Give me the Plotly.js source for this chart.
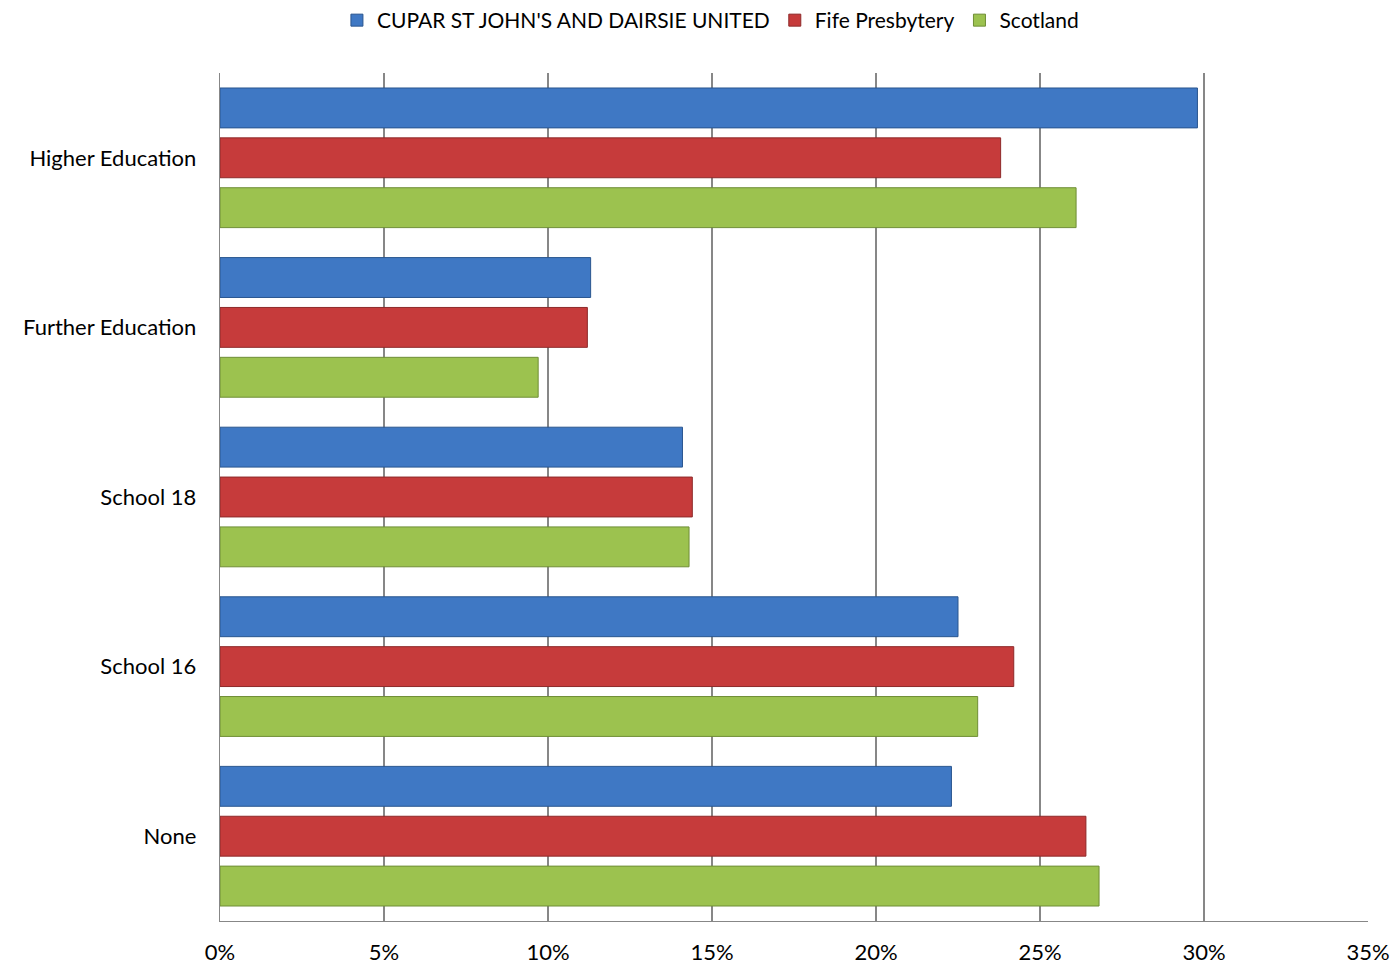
<!DOCTYPE html>
<html><head><meta charset="utf-8">
<script src="https://cdn.plot.ly/plotly-3.0.1.min.js"></script>
<style>body{margin:0;background:#fff}#chart{width:1393px;height:964px}</style>
</head><body><div id="chart"></div>
<script>
const categories = ["Higher Education", "Further Education", "School 18", "School 16", "None"];
const seriesNames = ["CUPAR ST JOHN'S AND DAIRSIE UNITED", "Fife Presbytery", "Scotland"];
const cuparValues = [0.298, 0.113, 0.141, 0.225, 0.223];
const fifeValues = [0.238, 0.112, 0.144, 0.242, 0.264];
const scotlandValues = [0.261, 0.097, 0.143, 0.231, 0.268];
const xTickValues = [0, 0.05, 0.10, 0.15, 0.20, 0.25, 0.30, 0.35];
const xTickLabels = ["0%", "5%", "10%", "15%", "20%", "25%", "30%", "35%"];

const colors = ["#3F78C4", "#C63B3B", "#9CC24F"];
const edges = ["#2A568F", "#8E2A2A", "#6F8E36"];
const allValues = [cuparValues, fifeValues, scotlandValues];

const traces = allValues.map((vals, i) => ({
  type: "bar",
  orientation: "h",
  name: seriesNames[i],
  y: categories,
  x: vals,
  marker: {color: colors[i], line: {color: edges[i], width: 1}},
  hoverinfo: "x+y+name"
}));

const layout = {
  width: 1393, height: 964,
  margin: {l: 220, r: 25, t: 73, b: 43},
  paper_bgcolor: "#fff", plot_bgcolor: "#fff",
  font: {family: "Lato, 'Open Sans', sans-serif", size: 22, color: "#000"},
  barmode: "group",
  bargap: 0.118,
  bargroupgap: 0.2,
  showlegend: true,
  legend: {orientation: "h", x: 0.51, xref: "container", xanchor: "center", y: 1, yref: "container", yanchor: "top",
           font: {size: 21}, itemwidth: 30, tracegroupgap: 0},
  xaxis: {
    range: [0, 0.35], tickvals: xTickValues, ticktext: xTickLabels,
    showgrid: true, gridcolor: "#878787", gridwidth: 1.3,
    showline: true, linecolor: "#878787", linewidth: 1.3,
    zeroline: false, ticks: "", ticklabelstandoff: 11, fixedrange: true
  },
  yaxis: {
    autorange: "reversed", showgrid: false,
    showline: true, linecolor: "#878787", linewidth: 1.3,
    ticks: "", ticklabelstandoff: 18, fixedrange: true
  }
};
Plotly.newPlot("chart", traces, layout, {displayModeBar: false, staticPlot: true});
</script></body></html>
